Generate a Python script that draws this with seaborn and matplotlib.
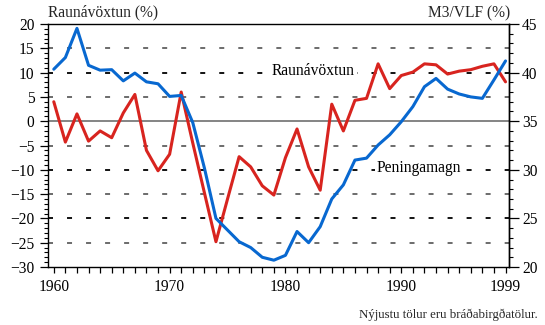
import matplotlib
matplotlib.use("Agg")
import matplotlib.pyplot as plt
from matplotlib.ticker import MultipleLocator
import pandas as pd
import seaborn as sns

# Annual series, 1960-1999
years = list(range(1960, 2000))
real_rate = [4.0, -4.3, 1.5, -4.1, -2.0, -3.4, 1.7, 5.5, -6.0, -10.2,
             -6.8, 6.0, -4.5, -14.7, -24.8, -16.0, -7.3, -9.4, -13.3, -15.2,
             -7.5, -1.6, -9.4, -14.2, 3.5, -2.0, 4.3, 4.7, 11.8, 6.7,
             9.4, 10.1, 11.8, 11.6, 9.7, 10.3, 10.6, 11.3, 11.8, 8.1]
m3_gdp = [40.35, 41.55, 44.55, 40.75, 40.25, 40.3, 39.15, 39.95, 39.05, 38.85,
          37.55, 37.65, 34.85, 30.2, 25.0, 23.8, 22.6, 22.0, 21.0, 20.7,
          21.2, 23.65, 22.5, 24.15, 27.0, 28.45, 31.0, 31.2, 32.55, 33.6,
          34.95, 36.5, 38.55, 39.4, 38.3, 37.8, 37.5, 37.35, 39.25, 41.2]
xtick_labels = [1960, 1970, 1980, 1990, 1999]

left_title = "Raunávöxtun (%)"
right_title = "M3/VLF (%)"
rate_label = "Raunávöxtun"
money_label = "Peningamagn"
footnote = "Nýjustu tölur eru bráðabirgðatölur."

sns.set_theme(style="ticks")
plt.rcParams["font.family"] = ["Liberation Serif", "DejaVu Serif"]
plt.rcParams["lines.scale_dashes"] = False

df = pd.DataFrame({"year": years, "rate": real_rate, "m3": m3_gdp})

fig = plt.figure(figsize=(5.45, 3.25), dpi=100)
ax = fig.add_axes([48 / 545, 1 - 267 / 325, (509 - 48) / 545, (267 - 24) / 325])
ax.set_facecolor("white")
ax2 = ax.twinx()

ax.set_xlim(1959.5, 1999.3)
ax.set_ylim(-30, 20)
ax2.set_ylim(20, 45)

# reference lines across the left scale
ax.yaxis.set_major_locator(MultipleLocator(5))
ax.yaxis.set_minor_locator(MultipleLocator(1))
lo, hi = ax.get_ylim()
for v in ax.get_yticks():
    if v <= lo or v >= hi:
        continue
    if v == 0:
        ax.axhline(v, color="#707070", lw=1.2, zorder=1)
    else:
        dark = (v % 10 == 0)
        ax.axhline(v, color="black" if dark else "#444444", lw=1.3 if dark else 1.1,
                   linestyle=(0, (3.6, 10.1)), zorder=1)

sns.lineplot(data=df, x="year", y="rate", ax=ax, color="#d8241f", lw=2.2, zorder=3)
sns.lineplot(data=df, x="year", y="m3", ax=ax2, color="#0868d0", lw=2.2, zorder=3)

ax.set_xlabel("")
ax.set_ylabel("")
ax2.set_ylabel("")

ax.set_xticks(xtick_labels)
ax.set_xticklabels([str(y) for y in xtick_labels])
ax.xaxis.set_minor_locator(MultipleLocator(1))
ax2.yaxis.set_major_locator(MultipleLocator(5))
ax2.yaxis.set_minor_locator(MultipleLocator(1))

ax.tick_params(axis="x", which="both", direction="out", length=4.3, width=0.9,
               color="black", labelsize=11.2, pad=4.5, top=False)
ax.tick_params(axis="y", which="major", direction="out", length=5.8, width=0.9,
               color="black", labelsize=11.2, pad=4.0)
ax.tick_params(axis="y", which="minor", direction="out", length=2.9, width=0.8,
               color="black")
ax2.tick_params(axis="y", which="major", direction="out", length=7.5, width=0.9,
                color="black", labelsize=11.2, pad=2.0)
ax2.tick_params(axis="y", which="minor", direction="out", length=2.9, width=0.8,
                color="black")

for s in ["left", "right", "top", "bottom"]:
    ax.spines[s].set_visible(True)
    ax.spines[s].set_color("black")
    ax.spines[s].set_linewidth(1.0)
for s in ["left", "top", "bottom"]:
    ax2.spines[s].set_visible(False)
ax2.spines["right"].set_color("black")
ax2.spines["right"].set_linewidth(1.0)

for lab in ax.get_xticklabels() + ax.get_yticklabels() + ax2.get_yticklabels():
    lab.set_color("black")

label_box = dict(facecolor="white", edgecolor="none", pad=1.5)
ax.text(1978.8, 9.5, rate_label, fontsize=11.2, color="black", ha="left",
        va="baseline", zorder=4, bbox=label_box)
ax.text(1987.9, -10.4, money_label, fontsize=11.2, color="black", ha="left",
        va="baseline", zorder=4, bbox=label_box)

fig.text(48 / 545, 1 - 16.5 / 325, left_title, fontsize=11.2, ha="left", va="baseline")
fig.text(510 / 545, 1 - 17 / 325, right_title, fontsize=11.2, ha="right", va="baseline")
fig.text(538 / 545, 1 - 318 / 325, footnote, fontsize=9.3, ha="right", va="baseline")

fig.savefig("out.png", dpi=100, facecolor="white")
